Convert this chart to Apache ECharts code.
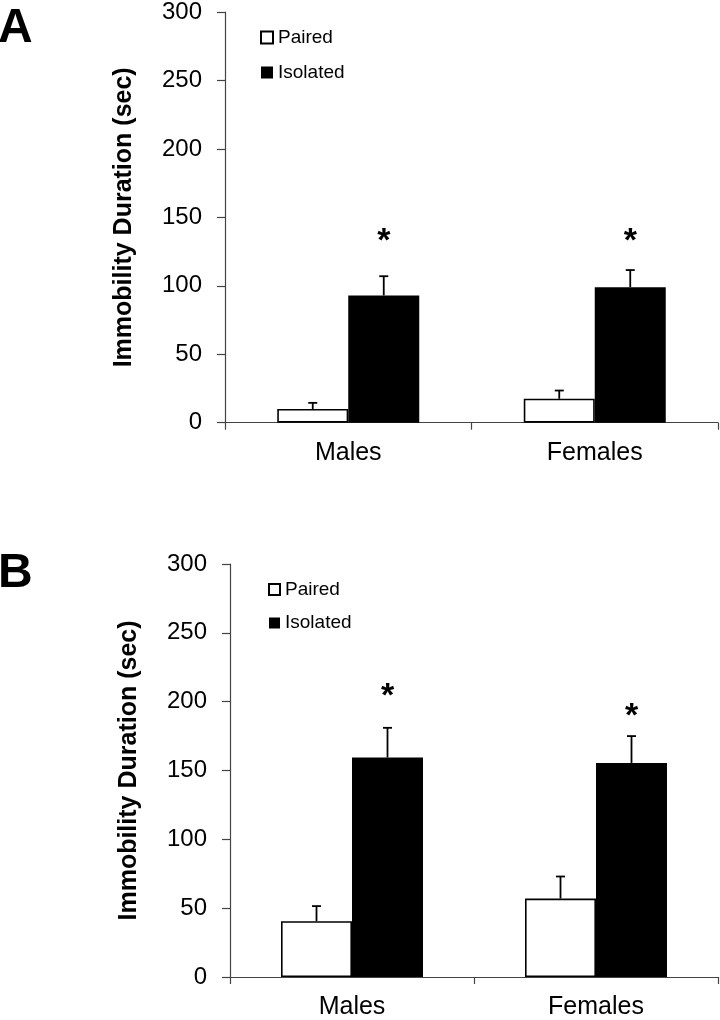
<!DOCTYPE html>
<html>
<head>
<meta charset="utf-8">
<script src="https://cdn.jsdelivr.net/npm/echarts@6/dist/echarts.min.js"></script>
<style>
html,body{margin:0;padding:0;background:#fff;}
#c{width:720px;height:1020px;}
</style>
</head>
<body>
<div id="c"></div>
<script>
// ---- data ----
const categories = ['Males', 'Females'];
const seriesNames = ['Paired', 'Isolated'];
const yTicks = [0, 50, 100, 150, 200, 250, 300];

const pairedA = [10, 17.5];
const pairedErrA = [4.5, 6];
const isolatedA = [93, 99];
const isolatedErrA = [14, 12.5];
const starA = [132, 132];

const pairedB = [40.5, 57];
const pairedErrB = [11, 16];
const isolatedB = [159.5, 155.5];
const isolatedErrB = [21.5, 19.5];
const starB = [204, 189];

const yTitle = 'Immobility Duration (sec)';
const panelLabels = ['A', 'B'];

// ---- styling ----
const FONT = 'Liberation Sans, Arial, sans-serif';
const BAR_W = 71;
const AXIS_COLOR = '#444';

function errData(vals, errs) {
  return vals.map((v, i) => [i, v, errs[i]]);
}
function starData(vals) {
  return vals.map((v, i) => [i, v]);
}
function errRender(offset) {
  return function (params, api) {
    const base = api.coord([api.value(0), api.value(1)]);
    const top = api.coord([api.value(0), api.value(1) + api.value(2)]);
    const x = base[0] + offset;
    return {
      type: 'group',
      children: [
        { type: 'line', shape: { x1: x, y1: base[1], x2: x, y2: top[1] }, style: { stroke: '#000', lineWidth: 1.8 } },
        { type: 'line', shape: { x1: x - 4.5, y1: top[1], x2: x + 4.5, y2: top[1] }, style: { stroke: '#000', lineWidth: 1.8 } }
      ]
    };
  };
}
function starRender(offset) {
  return function (params, api) {
    const p = api.coord([api.value(0), api.value(1)]);
    return {
      type: 'text',
      style: { text: '*', x: p[0] + offset, y: p[1], align: 'center', verticalAlign: 'middle', font: 'bold 34px ' + FONT, fill: '#000' }
    };
  };
}

const grids = [
  { left: 225, right: 2, top: 10.7, height: 412 },
  { left: 230, right: 2, top: 564, height: 416.7 }
];

function xAxis(gi) {
  return {
    type: 'category', gridIndex: gi, data: categories,
    axisLine: { lineStyle: { color: AXIS_COLOR, width: 1.2 } },
    axisTick: { show: true, alignWithLabel: false, length: 7, lineStyle: { color: AXIS_COLOR, width: 1.2 } },
    axisLabel: { color: '#000', fontSize: 25, fontFamily: FONT, margin: 18 }
  };
}
function yAxis(gi, nameGap) {
  return {
    type: 'value', gridIndex: gi, min: 0, max: 300, interval: 50,
    name: yTitle, nameLocation: 'middle', nameGap: nameGap, nameRotate: 90,
    nameTextStyle: { color: '#000', fontSize: 25, fontWeight: 'bold', fontFamily: FONT },
    axisLine: { show: true, lineStyle: { color: AXIS_COLOR, width: 1.2 } },
    axisTick: { show: true, length: 8, lineStyle: { color: AXIS_COLOR, width: 1.2 } },
    splitLine: { show: false },
    axisLabel: { color: '#000', fontSize: 24, fontFamily: FONT, margin: 23,
      formatter: v => (yTicks.indexOf(v) >= 0 ? String(v) : '') }
  };
}

function barSeries(name, data, gi, isPaired) {
  return {
    name: name, type: 'bar', xAxisIndex: gi, yAxisIndex: gi, data: data,
    barWidth: BAR_W, barGap: '0%',
    itemStyle: isPaired ? { color: '#fff', borderColor: '#000', borderWidth: 1.6 } : { color: '#000', borderColor: '#000', borderWidth: 0 },
    emphasis: { disabled: true }, animation: false, z: 2
  };
}
function errSeries(vals, errs, gi, offset) {
  return {
    type: 'custom', xAxisIndex: gi, yAxisIndex: gi, data: errData(vals, errs),
    renderItem: errRender(offset), z: 3, animation: false, silent: true
  };
}
function starSeries(vals, gi, offset) {
  return {
    type: 'custom', xAxisIndex: gi, yAxisIndex: gi, data: starData(vals),
    renderItem: starRender(offset), z: 4, animation: false, silent: true
  };
}

const half = BAR_W / 2;
const ZW = '\u200b';
const option = {
  backgroundColor: '#fff',
  animation: false,
  title: [
    { text: panelLabels[0], left: -2, top: 5, padding: 0, textStyle: { fontSize: 48, fontWeight: 'bold', color: '#000', fontFamily: FONT } },
    { text: panelLabels[1], left: -2, top: 550, padding: 0, textStyle: { fontSize: 48, fontWeight: 'bold', color: '#000', fontFamily: FONT } }
  ],
  legend: [
    {
      data: [seriesNames[0], seriesNames[1]], orient: 'vertical', left: 255, top: 23,
      itemWidth: 12, itemHeight: 12, itemGap: 16, icon: 'rect',
      textStyle: { fontSize: 19, color: '#000', fontFamily: FONT },
      selectedMode: false
    },
    {
      data: [seriesNames[0] + ZW, seriesNames[1] + ZW], orient: 'vertical', left: 263, top: 575,
      itemWidth: 11, itemHeight: 11, itemGap: 14.5, icon: 'rect',
      formatter: n => n.replace(ZW, ''),
      textStyle: { fontSize: 19, color: '#000', fontFamily: FONT },
      selectedMode: false
    }
  ],
  grid: grids,
  xAxis: [xAxis(0), xAxis(1)],
  yAxis: [yAxis(0, 88), yAxis(1, 88)],
  series: [
    barSeries(seriesNames[0], pairedA, 0, true),
    barSeries(seriesNames[1], isolatedA, 0, false),
    errSeries(pairedA, pairedErrA, 0, -half),
    errSeries(isolatedA, isolatedErrA, 0, half),
    starSeries(starA, 0, half),
    barSeries(seriesNames[0] + ZW, pairedB, 1, true),
    barSeries(seriesNames[1] + ZW, isolatedB, 1, false),
    errSeries(pairedB, pairedErrB, 1, -half),
    errSeries(isolatedB, isolatedErrB, 1, half),
    starSeries(starB, 1, half)
  ]
};

const chart = echarts.init(document.getElementById('c'), null, { renderer: 'canvas' });
chart.setOption(option);
</script>
</body>
</html>
